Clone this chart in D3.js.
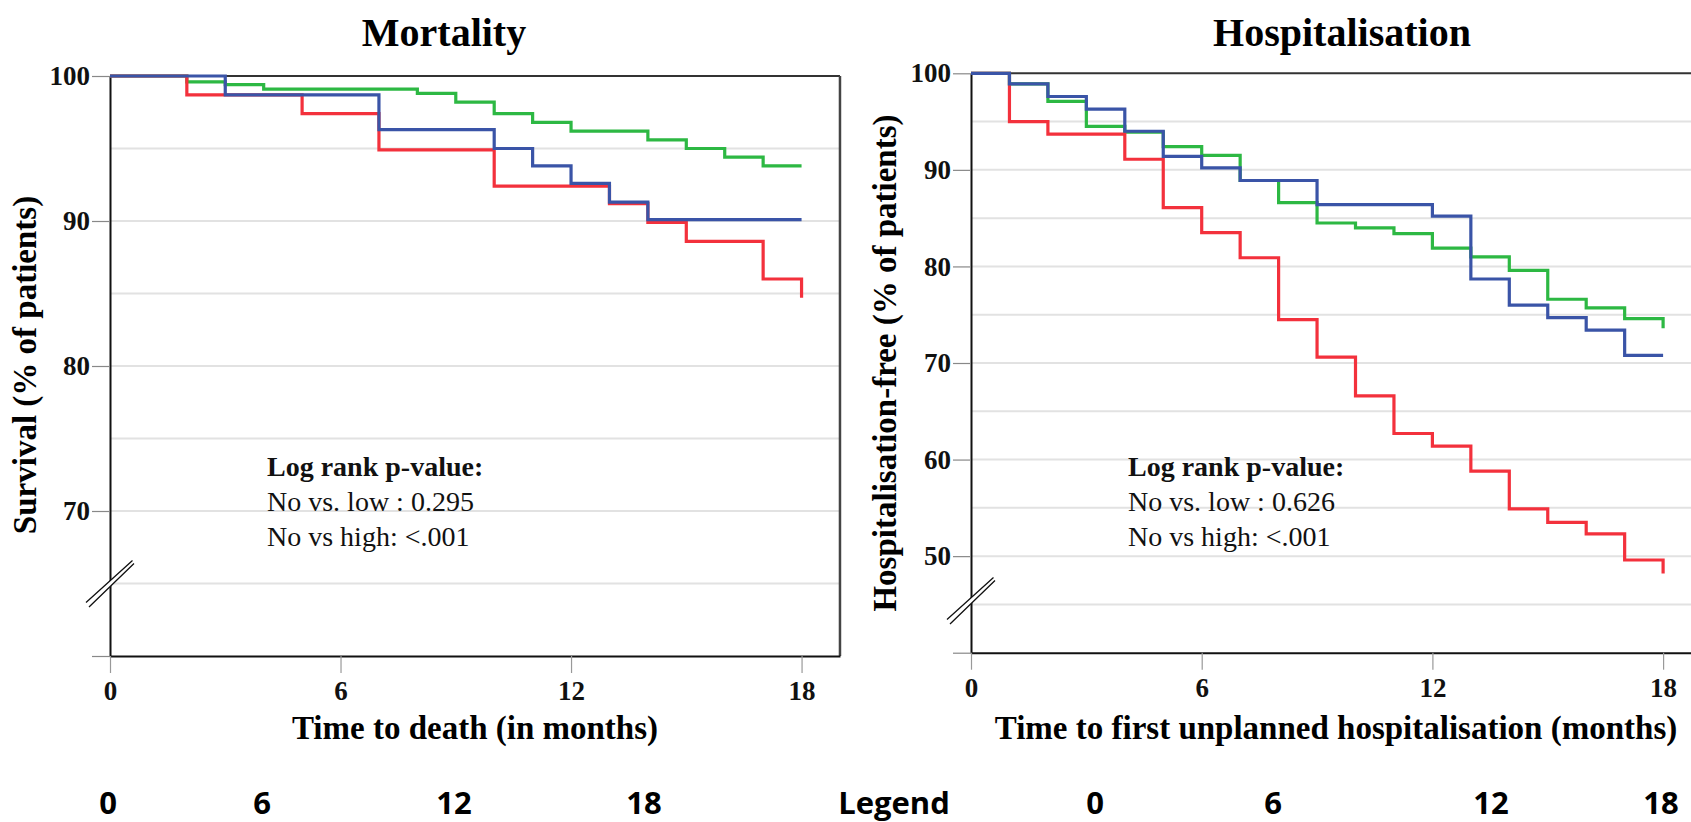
<!DOCTYPE html>
<html>
<head>
<meta charset="utf-8">
<script src="https://cdn.jsdelivr.net/npm/d3@7"></script>
<style>
  body { margin: 0; background: #fff; }
  svg { display: block; }
</style>
</head>
<body>
<script>
const timeTicks = [0, 6, 12, 18];
const followUp = 18;

// step curves: [month, % of patients] after each event
const mortNo = [[0, 100], [2, 99.6], [3, 99.4], [4, 99.1], [8, 98.8], [9, 98.2], [10, 97.4], [11, 96.8], [12, 96.2], [14, 95.6], [15, 95.0], [16, 94.4], [17, 93.8]];
const mortLow = [[0, 100], [3, 98.7], [7, 96.3], [10, 95.0], [11, 93.8], [12, 92.6], [13, 91.3], [14, 90.1]];
const mortHigh = [[0, 100], [2, 98.7], [5, 97.4], [7, 94.9], [10, 92.4], [13, 91.2], [14, 89.9], [15, 88.6], [17, 86.0], [18, 84.7]];

const hospNo = [[0, 100], [1, 98.9], [2, 97.1], [3, 94.5], [4, 93.9], [5, 92.4], [6, 91.5], [7, 88.9], [8, 86.6], [9, 84.5], [10, 84.0], [11, 83.4], [12, 81.9], [13, 81.0], [14, 79.6], [15, 76.6], [16, 75.7], [17, 74.6], [18, 73.6]];
const hospLow = [[0, 100], [1, 98.9], [2, 97.6], [3, 96.3], [4, 94.0], [5, 91.4], [6, 90.2], [7, 88.9], [9, 86.4], [12, 85.2], [13, 78.7], [14, 76.0], [15, 74.7], [16, 73.4], [17, 70.8]];
const hospHigh = [[0, 100], [1, 95.0], [2, 93.7], [4, 91.1], [5, 86.1], [6, 83.5], [7, 80.9], [8, 74.5], [9, 70.6], [10, 66.6], [11, 62.7], [12, 61.4], [13, 58.8], [14, 54.9], [15, 53.5], [16, 52.3], [17, 49.6], [18, 48.2]];

const mortPValues = ["No vs. low : 0.295", "No vs high: <.001"];
const hospPValues = ["No vs. low : 0.626", "No vs high: <.001"];

const bottomLabels = ["0", "6", "12", "18", "Legend", "0", "6", "12", "18"];

const groupColors = { no: "#2db843", low: "#3a54a7", high: "#f3313c" };

// layout
const bottomLabelX = [108, 262, 454, 644, 894, 1095, 1273, 1491, 1661];
const serif = "'Liberation Serif', 'Times New Roman', serif";

const panels = [
  {
    title: "Mortality", titleX: 444,
    yLabel: "Survival (% of patients)", yLabelX: 28, yLabelY: 365,
    xLabel: "Time to death (in months)", xLabelX: 475,
    yDomain: [60, 100], yTicks: [70, 80, 90, 100],
    left: 110, top: 76, bottom: 656, pxPerMonth: 38.42, breakAt: 65,
    series: [["no", mortNo], ["high", mortHigh], ["low", mortLow]],
    pvalues: mortPValues
  },
  {
    title: "Hospitalisation", titleX: 1342,
    yLabel: "Hospitalisation-free (% of patients)", yLabelX: 888, yLabelY: 363,
    xLabel: "Time to first unplanned hospitalisation (months)", xLabelX: 1336,
    yDomain: [40, 100], yTicks: [50, 60, 70, 80, 90, 100],
    left: 971, top: 73.3, bottom: 652.7, pxPerMonth: 38.45, breakAt: 45.4,
    series: [["no", hospNo], ["high", hospHigh], ["low", hospLow]],
    pvalues: hospPValues
  }
];

const svg = d3.select("body").append("svg")
  .attr("width", 1691)
  .attr("height", 822);

panels.forEach(p => {
  const x = d3.scaleLinear().domain([0, 19]).range([p.left, p.left + 19 * p.pxPerMonth]);
  const y = d3.scaleLinear().domain(p.yDomain).range([p.bottom, p.top]);
  const g = svg.append("g");

  // gridlines every 5%
  g.selectAll(".grid")
    .data(d3.range(p.yDomain[0] + 5, 100, 5))
    .enter()
    .append("line")
    .attr("x1", x(0)).attr("x2", x(19))
    .attr("y1", d => y(d)).attr("y2", d => y(d))
    .attr("stroke", "#e2e2e2")
    .attr("stroke-width", 2);

  // frame top + right
  g.append("line")
    .attr("x1", x(0)).attr("x2", x(19))
    .attr("y1", y(100)).attr("y2", y(100))
    .attr("stroke", "#333").attr("stroke-width", 2);
  g.append("line")
    .attr("x1", x(19)).attr("x2", x(19))
    .attr("y1", y(100)).attr("y2", y(p.yDomain[0]))
    .attr("stroke", "#444").attr("stroke-width", 2.5);

  const yAxis = g.append("g")
    .attr("transform", `translate(${x(0)},0)`)
    .call(d3.axisLeft(y)
      .tickValues([p.yDomain[0], ...p.yTicks])
      .tickSize(18)
      .tickSizeOuter(0)
      .tickPadding(2)
      .tickFormat(d => d === p.yDomain[0] ? "" : d));

  const xAxis = g.append("g")
    .attr("transform", `translate(0,${y(p.yDomain[0])})`)
    .call(d3.axisBottom(x)
      .tickValues(timeTicks)
      .tickSize(17)
      .tickSizeOuter(0)
      .tickPadding(8));

  [yAxis, xAxis].forEach(ax => {
    ax.attr("font-family", serif).attr("font-size", 27).attr("font-weight", "bold");
    ax.select(".domain").attr("stroke", "#111").attr("stroke-width", 2);
    ax.selectAll(".tick line").attr("stroke", "#888").attr("stroke-width", 1.2);
    ax.selectAll(".tick text").attr("fill", "#111");
  });
  xAxis.selectAll(".tick line").attr("stroke", "#999");

  // survival curves
  const line = d3.line()
    .x(d => x(d[0]))
    .y(d => y(d[1]))
    .curve(d3.curveStepAfter);

  p.series.forEach(([grp, pts]) => {
    const last = pts[pts.length - 1];
    const full = last[0] < followUp ? [...pts, [followUp, last[1]]] : pts;
    g.append("path")
      .datum(full)
      .attr("d", line)
      .attr("fill", "none")
      .attr("stroke", groupColors[grp])
      .attr("stroke-width", 3.2)
      .attr("stroke-linejoin", "miter");
  });

  // axis break mark
  const cx = x(0), cy = y(p.breakAt);
  g.append("path")
    .attr("d", `M${cx - 24},${cy + 19}L${cx + 22.5},${cy - 23}L${cx + 24},${cy - 20}L${cx - 21},${cy + 23.5}Z`)
    .attr("fill", "#fff");
  g.append("path")
    .attr("d", `M${cx - 24},${cy + 19}L${cx + 22.5},${cy - 23}M${cx - 21},${cy + 23.5}L${cx + 24},${cy - 20}`)
    .attr("stroke", "#111")
    .attr("stroke-width", 1.3)
    .attr("fill", "none");

  // titles and labels
  svg.append("text")
    .attr("x", p.titleX).attr("y", 46)
    .attr("text-anchor", "middle")
    .attr("font-family", serif).attr("font-size", 40).attr("font-weight", "bold")
    .text(p.title);

  svg.append("text")
    .attr("transform", `translate(${p.yLabelX},${p.yLabelY}) rotate(-90)`)
    .attr("text-anchor", "middle")
    .attr("dominant-baseline", "middle")
    .attr("font-family", serif).attr("font-size", 33).attr("font-weight", "bold")
    .text(p.yLabel);

  svg.append("text")
    .attr("x", p.xLabelX).attr("y", 739)
    .attr("text-anchor", "middle")
    .attr("font-family", serif).attr("font-size", 33).attr("font-weight", "bold")
    .text(p.xLabel);

  const note = svg.append("text")
    .attr("font-family", serif).attr("font-size", 28).attr("fill", "#111");
  note.append("tspan")
    .attr("x", p.left + 157).attr("y", 476)
    .attr("font-weight", "bold")
    .text("Log rank p-value:");
  p.pvalues.forEach((t, i) => {
    note.append("tspan")
      .attr("x", p.left + 157).attr("y", 511 + i * 35)
      .text(t);
  });
});

// stray label row at the bottom of the figure
svg.selectAll(".bottom-label")
  .data(bottomLabels)
  .enter()
  .append("text")
  .attr("class", "bottom-label")
  .attr("x", (d, i) => bottomLabelX[i])
  .attr("y", 814)
  .attr("text-anchor", "middle")
  .attr("font-family", "'Open Sans', Lato, sans-serif")
  .attr("font-size", 31)
  .attr("font-weight", "bold")
  .text(d => d);
</script>
</body>
</html>
